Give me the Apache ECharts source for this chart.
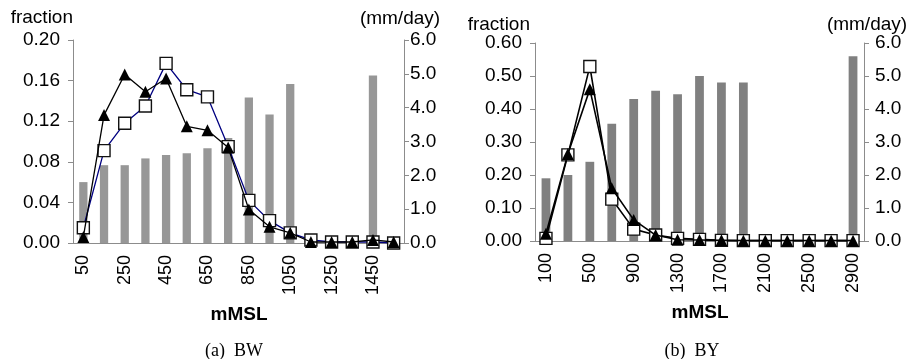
<style>body { margin: 0; }</style>
<div id="main" style="width:907px; height:359px;"></div>

<script src="https://cdn.jsdelivr.net/npm/echarts@6.0.0/dist/echarts.min.js"></script>
<script>
// (a) BW
var bwCategories = ['50', '150', '250', '350', '450', '550', '650', '750', '850', '950', '1050', '1150', '1250', '1350', '1450', '1550'];
var bwRain = [1.8, 2.3, 2.3, 2.5, 2.6, 2.65, 2.8, 3.1, 4.3, 3.8, 4.7, 0, 0, 0, 4.95, 0];
var bwSquare = [0.015, 0.091, 0.118, 0.135, 0.177, 0.151, 0.144, 0.095, 0.042, 0.022, 0.010, 0.003, 0.001, 0.001, 0.001, 0.000];
var bwTriangle = [0.006, 0.126, 0.166, 0.149, 0.162, 0.115, 0.111, 0.094, 0.033, 0.016, 0.010, 0.001, 0.001, 0.001, 0.003, 0.001];

// (b) BY
var byCategories = ['100', '300', '500', '700', '900', '1100', '1300', '1500', '1700', '1900', '2100', '2300', '2500', '2700', '2900'];
var byRain = [1.9, 2.0, 2.4, 3.55, 4.3, 4.55, 4.45, 5.0, 4.8, 4.8, 0, 0, 0, 0, 5.6];
var bySquare = [0.008, 0.261, 0.529, 0.127, 0.036, 0.018, 0.008, 0.005, 0.002, 0.001, 0.001, 0.001, 0.001, 0.001, 0.001];
var byTriangle = [0.022, 0.264, 0.460, 0.160, 0.064, 0.018, 0.004, 0.003, 0.002, 0.001, 0.001, 0.001, 0.001, 0.001, 0.001];

var font = 'Liberation Sans';
var axisGray = '#8c8c8c';

var myChart = echarts.init(document.getElementById('main'));

function catAxis(grid, cats) {
	return {
		type: 'category',
		gridIndex: grid,
		data: cats,
		axisLine: { lineStyle: { color: axisGray, width: 1 } },
		axisTick: { interval: 0, length: 5, lineStyle: { color: axisGray } },
		axisLabel: { interval: 1, rotate: 90, margin: 12, fontFamily: font, fontSize: 18, color: '#000' }
	};
}

// second axis only to draw the ticks under each category centre
function midTicks(grid, cats) {
	return {
		type: 'category',
		gridIndex: grid,
		data: cats,
		axisLine: { show: false },
		axisTick: { interval: 0, alignWithLabel: true, length: 5, lineStyle: { color: axisGray } },
		axisLabel: { show: false }
	};
}

function valAxis(grid, max, step, digits, pos, name, nameOpt, margin) {
	return {
		type: 'value',
		gridIndex: grid,
		position: pos,
		min: 0,
		max: max,
		interval: step,
		name: name,
		nameLocation: 'end',
		nameGap: nameOpt.gap,
		nameMoveOverlap: false,
		nameTextStyle: {
			fontFamily: font, fontSize: 19, color: '#000',
			align: nameOpt.align, verticalAlign: 'bottom', padding: nameOpt.padding
		},
		splitLine: { show: false },
		axisLine: { show: true, lineStyle: { color: axisGray, width: 1 } },
		axisTick: { show: true, length: 5, lineStyle: { color: axisGray } },
		axisLabel: {
			margin: margin, fontFamily: font, fontSize: 19, color: '#000',
			showMinLabel: true, showMaxLabel: true,
			formatter: function (v) { return v.toFixed(digits); }
		}
	};
}

function lineSeries(x, y, data, symbol, lineColor, fill, width) {
	return {
		type: 'line',
		xAxisIndex: x,
		yAxisIndex: y,
		data: data,
		symbol: symbol,
		symbolSize: 12,
		showAllSymbol: true,
		z: symbol === 'triangle' ? 5 : 4,
		lineStyle: { color: lineColor, width: width },
		itemStyle: { color: fill, borderColor: '#111', borderWidth: symbol === 'rect' ? 1.4 : 0 }
	};
}

function label(x, y, text, f) {
	return { type: 'text', x: x, y: y, style: { text: text, font: f, fill: '#000', align: 'center', verticalAlign: 'top' } };
}

myChart.setOption({
	animation: false,
	backgroundColor: '#fff',
	grid: [
		{ left: 73, top: 40, width: 331, height: 203, outerBoundsMode: 'none', containLabel: false },
		{ left: 535, top: 43, width: 329, height: 198, outerBoundsMode: 'none', containLabel: false }
	],
	xAxis: [
		catAxis(0, bwCategories),
		midTicks(0, bwCategories),
		catAxis(1, byCategories),
		midTicks(1, byCategories)
	],
	yAxis: [
		valAxis(0, 0.2, 0.04, 2, 'left', 'fraction', { gap: 6, align: 'right', padding: [0, 0, 0, 0] }, 13),
		valAxis(0, 6, 1, 1, 'right', '(mm/day)', { gap: 5, align: 'center', padding: [0, 8, 0, 0] }, 6),
		valAxis(1, 0.6, 0.1, 2, 'left', 'fraction', { gap: 2, align: 'right', padding: [0, 5, 0, 0] }, 13),
		valAxis(1, 6, 1, 1, 'right', '(mm/day)', { gap: 2, align: 'center', padding: [0, 0, 0, 6] }, 11)
	],
	series: [
		{ type: 'bar', xAxisIndex: 0, yAxisIndex: 1, data: bwRain, barWidth: '40%', itemStyle: { color: '#979797' }, z: 2 },
		lineSeries(0, 0, bwSquare, 'rect', '#000080', '#fff', 1.3),
		lineSeries(0, 0, bwTriangle, 'triangle', '#000', '#000', 1.3),
		{ type: 'bar', xAxisIndex: 2, yAxisIndex: 3, data: byRain, barWidth: '40%', itemStyle: { color: '#808080' }, z: 2 },
		lineSeries(2, 2, bySquare, 'rect', '#000', '#fff', 1.6),
		lineSeries(2, 2, byTriangle, 'triangle', '#000', '#000', 1.6)
	],
	graphic: [
		label(239, 298, 'mMSL', 'bold 19px "Liberation Sans"'),
		label(700, 296, 'mMSL', 'bold 19px "Liberation Sans"'),
		label(234, 338, '(a)  BW', '18px "Liberation Serif"'),
		label(692, 338, '(b)  BY', '18px "Liberation Serif"')
	]
});
</script>
